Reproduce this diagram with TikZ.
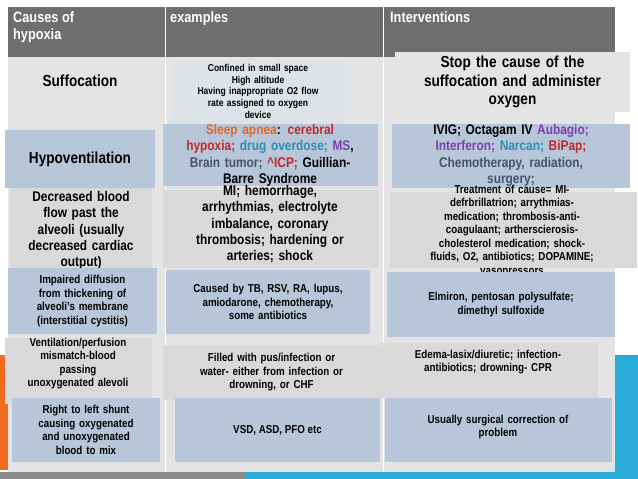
\documentclass[tikz,border=0pt]{standalone}
\usepackage{fontspec}
\setmainfont{Liberation Sans}[FakeStretch=0.85]
\definecolor{hdr}{HTML}{6E6E6E}
\definecolor{bodyg}{HTML}{E4E4E4}
\definecolor{gbox}{HTML}{D9D9D9}
\definecolor{bbox}{HTML}{B7C6D9}
\definecolor{lbox}{HTML}{DDE3E6}
\definecolor{ora}{HTML}{E0662A}
\definecolor{red1}{HTML}{C0282E}
\definecolor{teal1}{HTML}{2F8FB0}
\definecolor{purp}{HTML}{7A3FB0}
\definecolor{slate}{HTML}{44546A}
\definecolor{sideo}{HTML}{F26B21}
\definecolor{sideb}{HTML}{29ABD8}
\newcommand{\fz}[1]{\fontsize{#1}{\fpeval{#1*1.17}}\selectfont}
\tikzset{
 cell/.style={inner sep=1pt,font=\bfseries,align=center,text=black},
 hd/.style={anchor=north west,font=\bfseries\fz{15},text=white,align=left,inner sep=0pt},
}
\newcommand{\cbox}[6]{% name, x1,y1,x2,y2, fill
 \fill[#6] (#2,#3) rectangle (#4,#5);
 \coordinate (#1) at ({(#2+#4)/2},{(#3+#5)/2});}
\hyphenpenalty=10000 \exhyphenpenalty=50
\begin{document}
\begin{tikzpicture}[x=1pt,y=-1pt]
\useasboundingbox (0,0) rectangle (638,479);
\fill[white] (0,0) rectangle (638,479);
% side decorations
\fill[sideo] (0,355) rectangle (8,470);
\fill[sideb] (615,355) rectangle (638,479);
\fill[sideb] (245,472) rectangle (638,479);
\fill[hdr!80] (0,472) rectangle (245,479);
% table
\fill[bodyg] (8,57) rectangle (615,472);
\fill[hdr] (8,7) rectangle (615,57);
\draw[white,line width=0.8pt] (165,7) -- (165,472) (383,7) -- (383,472);
\node[hd] (h1) at (13,11) {Causes of\\hypoxia};
\node[hd] (h2) at (170,11) {examples};
\node[hd] (h3) at (390,11) {Interventions};
% row 1
\cbox{a1}{22}{60}{138}{102}{gbox!70}
\node[cell,font=\bfseries\fz{16}] at (a1) {Suffocation};
\cbox{b1}{172}{60}{345}{150}{lbox}
\node[cell,font=\bfseries\fz{10},text width=170pt,anchor=north] at (258,63) {Confined in small space\\High altitude\\Having inappropriate O2 flow\\rate assigned to oxygen\\device};
\cbox{c1}{395}{52}{630}{112}{gbox!70}
\node[cell,font=\bfseries\fz{16},text width=225pt] at (c1) {Stop the cause of the\\suffocation and administer\\oxygen};
% row 2
\cbox{a2}{5}{130}{155}{188}{bbox}
\node[cell,font=\bfseries\fz{16}] at (a2) {Hypoventilation};
\cbox{b2}{163}{124}{378}{186}{bbox}
\node[cell,font=\bfseries\fz{14},text width=210pt,anchor=north] at (270,123) {\textcolor{ora}{Sleep apnea}: \textcolor{red1}{cerebral}\\\textcolor{red1}{hypoxia;} \textcolor{teal1}{drug overdose;} \textcolor{purp}{MS},\\\textcolor{slate}{Brain tumor;} \textcolor{red1}{\^{}ICP;} Guillian-\\Barre Syndrome};
\cbox{c2}{392}{124}{630}{188}{bbox}
\node[cell,font=\bfseries\fz{14},text width=230pt,anchor=north] at (511,123) {IVIG; Octagam IV \textcolor{purp}{Aubagio;}\\\textcolor{purp}{Interferon;} \textcolor{teal1}{Narcan;} \textcolor{red1}{BiPap;}\\\textcolor{slate}{Chemotherapy, radiation,}\\\textcolor{slate}{surgery;}};
% row 3
\cbox{a3}{10}{188}{152}{270}{gbox}
\node[cell,font=\bfseries\fz{14},text width=140pt,anchor=north] at (81,190) {Decreased blood\\flow past the\\alveoli (usually\\decreased cardiac\\output)};
\cbox{b3}{163}{190}{378}{268}{gbox}
\node[cell,font=\bfseries\fz{14},text width=210pt,anchor=north] at (270,184) {MI; hemorrhage,\\arrhythmias, electrolyte\\imbalance, coronary\\thrombosis; hardening or\\arteries; shock};
\cbox{c3}{390}{192}{637}{268}{gbox}
\node[cell,font=\bfseries\fz{11.5},text width=240pt,anchor=north] at (512,184) {Treatment of cause= MI-\\defrbrillatrion; arrythmias-\\medication; thrombosis-anti-\\coagulaant; artherscierosis-\\cholesterol medication; shock-\\fluids, O2, antibiotics; DOPAMINE;\\vasopressors};
% row 4
\cbox{a4}{8}{268}{157}{334}{bbox}
\node[cell,font=\bfseries\fz{11.5},text width=148pt] at (a4) {Impaired diffusion\\from thickening of\\alveoli's membrane\\(interstitial cystitis)};
\cbox{b4}{166}{270}{370}{334}{bbox}
\node[cell,font=\bfseries\fz{11.5},text width=200pt] at (b4) {Caused by TB, RSV, RA, lupus,\\amiodarone, chemotherapy,\\some antibiotics};
\cbox{c4}{387}{272}{615}{337}{bbox}
\node[cell,font=\bfseries\fz{11.5},text width=220pt] at (c4) {Elmiron, pentosan polysulfate;\\dimethyl sulfoxide};
% row 5
\cbox{a5}{5}{338}{152}{404}{gbox}
\node[cell,font=\bfseries\fz{11.5},text width=150pt,anchor=north] at (78,337) {Ventilation/perfusion\\mismatch-blood\\passing\\unoxygenated alevoli};
\cbox{b5}{163}{345}{380}{400}{gbox}
\node[cell,font=\bfseries\fz{11.5},text width=210pt] at (b5) {Filled with pus/infection or\\water- either from infection or\\drowning, or CHF};
\cbox{c5}{380}{343}{598}{398}{gbox}
\node[cell,font=\bfseries\fz{11.5},text width=215pt,anchor=north] at (488,349) {Edema-lasix/diuretic; infection-\\antibiotics; drowning- CPR};
% row 6
\cbox{a6}{12}{398}{160}{462}{bbox}
\node[cell,font=\bfseries\fz{11.5},text width=145pt] at (a6) {Right to left shunt\\causing oxygenated\\and unoxygenated\\blood to mix};
\cbox{b6}{175}{398}{380}{462}{bbox}
\node[cell,font=\bfseries\fz{11.5}] at (b6) {VSD, ASD, PFO etc};
\cbox{c6}{385}{398}{612}{462}{bbox}
\node[cell,font=\bfseries\fz{11.5},text width=220pt,anchor=north] at (498,414) {Usually surgical correction of\\problem};
\end{tikzpicture}
\end{document}
